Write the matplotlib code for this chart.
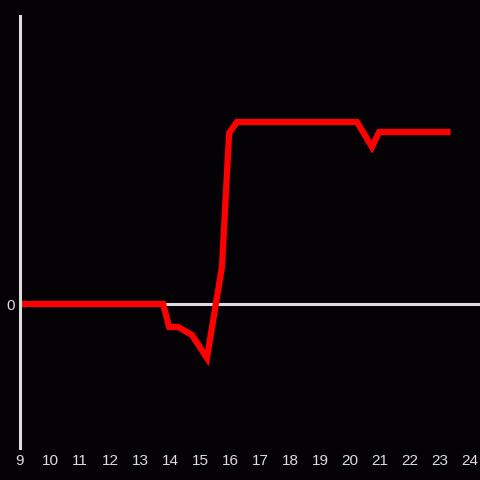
import matplotlib.pyplot as plt

# time of day (hours) and value
hours = [9, 13.77, 13.97, 14.27, 14.73, 15.23, 15.73, 15.97, 16.23, 20.23, 20.73, 20.97, 23.35]
values = [0, 0, -2.3, -2.3, -3.1, -5.4, 3.7, 17.1, 18.2, 18.2, 15.7, 17.2, 17.2]
xticks = list(range(9, 25))

bg = '#050205'
fg = '#dddddd'

plt.rcParams['font.family'] = ['Liberation Sans', 'DejaVu Sans']

fig = plt.figure(figsize=(4.8, 4.8), dpi=100, facecolor=bg)
ax = fig.add_axes([20 / 480, 32 / 480, 460 / 480, 432 / 480], facecolor=bg)

ax.axhline(0, color=fg, lw=2.2, zorder=1)
ax.plot(hours, values, color='#ff0000', lw=4.5, solid_joinstyle='miter',
        solid_capstyle='butt', zorder=2)

ax.set_xlim(9, 24.33)
ax.set_ylim(-14.4, 28.8)
ax.set_xticks(xticks)
ax.set_yticks([0])

for s in ['top', 'right', 'bottom']:
    ax.spines[s].set_visible(False)
ax.spines['left'].set_color(fg)
ax.spines['left'].set_linewidth(2.2)

ax.tick_params(length=0, colors=fg, labelsize=11)
ax.tick_params(axis='x', pad=4)
ax.tick_params(axis='y', pad=4)

fig.savefig('out.png', dpi=100, facecolor=bg)
